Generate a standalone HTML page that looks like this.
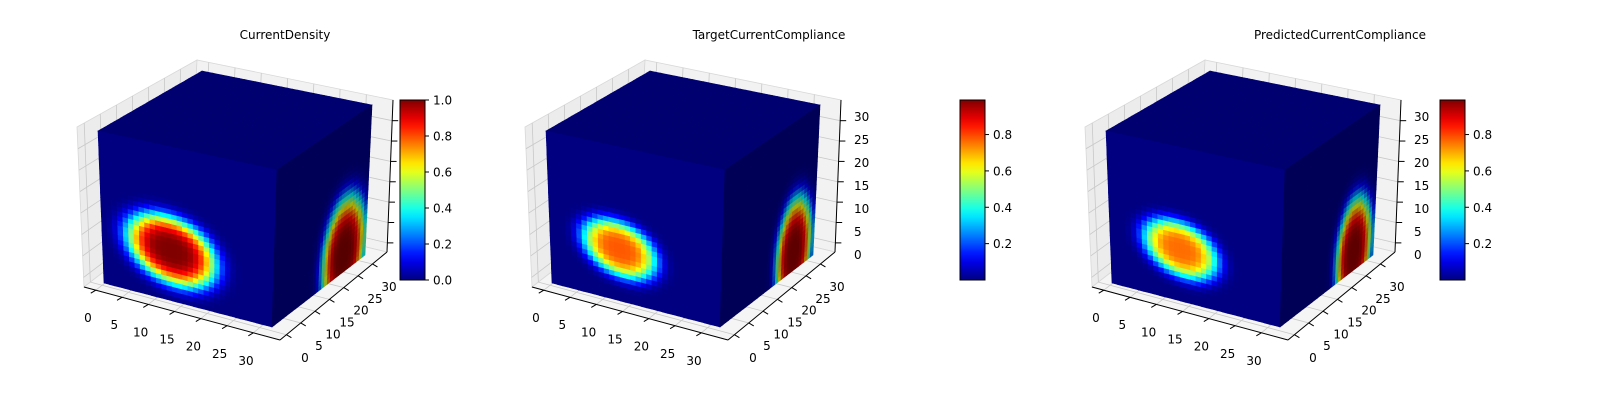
<!DOCTYPE html>
<html><head><meta charset="utf-8"><style>
html,body{margin:0;padding:0;background:#fff;}
svg{display:block;font-family:"DejaVu Sans","Liberation Sans",sans-serif;}
</style></head><body>
<svg id="chart" width="1600" height="400" viewBox="0 0 1600 400" xmlns="http://www.w3.org/2000/svg"></svg>
<script>
// ---- data ----
const panelTitles = ["CurrentDensity","TargetCurrentCompliance","PredictedCurrentCompliance"];
const axisTicks = [0,5,10,15,20,25,30];
const cbTicksPanel1 = [0.0,0.2,0.4,0.6,0.8,1.0];
const cbTicksPanel2 = [0.2,0.4,0.6,0.8];
const cbTicksPanel3 = [0.2,0.4,0.6,0.8];
const vMin = [0,0,0];
const vMax = [1.0,0.99,0.99];
// front-face (x-z plane) hot spot, in voxel units
const frontCenterX = [13,13,13.2];
const frontCenterZ = [10.5,10.8,10.8];
const frontRadiusA = [10,8.4,8.4];
const frontRadiusB = [8,6.6,6.6];
const frontPeak = [1.0,0.78,0.76];
// side-face (y-z plane) hot spot
const sideCenterY = [24.5,25.2,25.2];
const sideCenterZ = [4,4,4];
const sideRadiusY = [8.8,7.2,7.2];
const sideRadiusZ = [14,13.5,13.5];
const sidePeak = [1.0,0.98,0.98];

// ---- geometry (layout, not data) ----
const NS="http://www.w3.org/2000/svg";
const svg=document.getElementById('chart');
const offsets=[0,448,1008];
const titleX=[285,769,1340];
const cbX=[400,960,1440];
const cube={B:[104,283],C:[272,327],A:[98,131],D:[277,170],F:[365,255],E:[372,105],G:[202,71],H:[197,211]};
const pane={P000:[84,287],P100:[280,340],P110:[387,252],P010:[190,205],P001:[77,127],P011:[197,60],P111:[393,100]};
const N=32;

function mk(tag,attrs,parent){const e=document.createElementNS(NS,tag);for(const k in attrs)e.setAttribute(k,attrs[k]);(parent||svg).appendChild(e);return e;}
function jet(x){x=Math.max(0,Math.min(1,x));const c=v=>Math.max(0,Math.min(1,v));return [c(1.5-Math.abs(4*x-3)),c(1.5-Math.abs(4*x-2)),c(1.5-Math.abs(4*x-1))];}
function rgb(c,s){return 'rgb('+c.map(v=>Math.round(v*255*s)).join(',')+')';}
function bil(p00,p10,p01,p11,u,v){return [(1-u)*(1-v)*p00[0]+u*(1-v)*p10[0]+(1-u)*v*p01[0]+u*v*p11[0],(1-u)*(1-v)*p00[1]+u*(1-v)*p10[1]+(1-u)*v*p01[1]+u*v*p11[1]];}
function lerp(a,b,t){return [a[0]+(b[0]-a[0])*t,a[1]+(b[1]-a[1])*t];}
function prof(d){return Math.exp(-Math.pow(d/0.85,4));}
function frontVal(p,x,z){const dx=x-frontCenterX[p],dz=z-frontCenterZ[p];const a=-20*Math.PI/180;const ru=dx*Math.cos(a)+dz*Math.sin(a),rv=-dx*Math.sin(a)+dz*Math.cos(a);const d=Math.sqrt((ru/frontRadiusA[p])**2+(rv/frontRadiusB[p])**2);return frontPeak[p]*prof(d);}
function sideVal(p,y,z){const d=Math.sqrt(((y-sideCenterY[p])/sideRadiusY[p])**2+((z-sideCenterZ[p])/sideRadiusZ[p])**2);return sidePeak[p]*prof(d);}
function tickT(k){return 0.06+0.134*(axisTicks[k]/5);}

for(let p=0;p<3;p++){
  const g=mk('g',{transform:'translate('+offsets[p]+',0)'});
  
  
  const t=mk('text',{x:titleX[p]-offsets[p],y:39,'text-anchor':'middle','font-size':12,fill:'#000'},g);
  t.textContent=panelTitles[p];
  
  
  const P=pane;
  const panes=[[P.P000,P.P010,P.P011,P.P001],[P.P010,P.P110,P.P111,P.P011],[P.P000,P.P100,P.P110,P.P010]];
  const paneFill=['#ececec','#f2f2f2','#f5f5f5'];
  panes.forEach((q,i)=>{const e=mk('polygon',{points:q.map(v=>v.join(',')).join(' '),fill:paneFill[i],stroke:'#d8d8d8','stroke-width':0.8},g);
    
    });
  const gl=mk('g',{stroke:'#c8c8c8','stroke-width':0.8,fill:'none'},g);
  
  
  for(let k=0;k<axisTicks.length;k++){const s=tickT(k);
    let a=lerp(P.P000,P.P100,s),b=lerp(P.P010,P.P110,s),c=lerp(P.P011,P.P111,s);
    mk('polyline',{points:[a,b,c].map(v=>v.join(',')).join(' ')},gl);
    a=lerp(P.P100,P.P110,s);b=lerp(P.P000,P.P010,s);c=lerp(P.P001,P.P011,s);
    mk('polyline',{points:[a,b,c].map(v=>v.join(',')).join(' ')},gl);
    a=lerp(P.P000,P.P001,s);b=lerp(P.P010,P.P011,s);c=lerp(P.P110,P.P111,s);
    mk('polyline',{points:[a,b,c].map(v=>v.join(',')).join(' ')},gl);}
  const ax=mk('g',{stroke:'#000','stroke-width':1,fill:'none'},g);
  
  
  mk('line',{x1:P.P000[0],y1:P.P000[1],x2:P.P100[0],y2:P.P100[1]},ax);
  mk('line',{x1:P.P100[0],y1:P.P100[1],x2:P.P110[0],y2:P.P110[1]},ax);
  mk('line',{x1:P.P110[0],y1:P.P110[1],x2:P.P111[0],y2:P.P111[1]},ax);
  for(let k=0;k<axisTicks.length;k++){const s=tickT(k);
    let a=lerp(P.P000,P.P100,s);mk('line',{x1:a[0],y1:a[1],x2:a[0]-5,y2:a[1]+3},ax);
    a=lerp(P.P100,P.P110,s);mk('line',{x1:a[0],y1:a[1],x2:a[0]+5,y2:a[1]+3},ax);
    a=lerp(P.P110,P.P111,s);mk('line',{x1:a[0],y1:a[1],x2:a[0]+6,y2:a[1]},ax);}
  for(let k=0;k<axisTicks.length;k++){const f=k/6;
    let e=mk('text',{x:88+(246-88)*f,y:322+(365-322)*f,'text-anchor':'middle','font-size':12},g);e.textContent=axisTicks[k];
    
    
    e=mk('text',{x:305+(389-305)*f,y:362+(291-362)*f,'text-anchor':'middle','font-size':12},g);e.textContent=axisTicks[k];
    
    
    if(p>0){e=mk('text',{x:406,y:259+(121-259)*f,'text-anchor':'start','font-size':12},g);e.textContent=axisTicks[k];
      
      }}
  const C=cube;
  const faces=[{name:'top-face',p00:C.A,p10:C.D,p01:C.G,p11:C.E,shade:0.88,val:()=>0},
               {name:'front-face',p00:C.B,p10:C.C,p01:C.A,p11:C.D,shade:1.0,val:(u,v)=>frontVal(p,u,v)},
               {name:'right-face',p00:C.C,p10:C.F,p01:C.D,p11:C.E,shade:0.68,val:(u,v)=>sideVal(p,u,v)}];
  faces.forEach(fc=>{
    const fg=mk('g',{},g);
    
    
    for(let i=0;i<N;i++)for(let j=0;j<N;j++){
      const u0=i/N,u1=(i+1)/N,v0=j/N,v1=(j+1)/N;
      const pts=[bil(fc.p00,fc.p10,fc.p01,fc.p11,u0,v0),bil(fc.p00,fc.p10,fc.p01,fc.p11,u1,v0),bil(fc.p00,fc.p10,fc.p01,fc.p11,u1,v1),bil(fc.p00,fc.p10,fc.p01,fc.p11,u0,v1)];
      const val=fc.val(i+0.5,j+0.5);
      const col=rgb(jet((val-vMin[p])/(vMax[p]-vMin[p])),fc.shade);
      mk('polygon',{points:pts.map(v=>v[0].toFixed(1)+','+v[1].toFixed(1)).join(' '),fill:col,stroke:col,'stroke-width':0.6},fg);
    }});
}
const defs=mk('defs',{});
const lg=mk('linearGradient',{id:'jetgrad',x1:0,y1:1,x2:0,y2:0},defs);
for(let i=0;i<=20;i++){mk('stop',{offset:(i/20),'stop-color':rgb(jet(i/20),1)},lg);}
const cbTickSets=[cbTicksPanel1,cbTicksPanel2,cbTicksPanel3];
for(let p=0;p<3;p++){
  const cg=mk('g',{});
  
  
  const x=cbX[p],top=100,bot=280,w=25;
  mk('rect',{x:x,y:top,width:w,height:bot-top,fill:'url(#jetgrad)',stroke:'#000','stroke-width':1},cg);
  cbTickSets[p].forEach(tv=>{const y=bot-(tv-vMin[p])/(vMax[p]-vMin[p])*(bot-top);
    mk('line',{x1:x+w,y1:y,x2:x+w+4,y2:y,stroke:'#000','stroke-width':1},cg);
    const e=mk('text',{x:x+w+8,y:y+4.5,'font-size':12},cg);e.textContent=tv.toFixed(1);
    
    });
}
</script>
</body></html>
